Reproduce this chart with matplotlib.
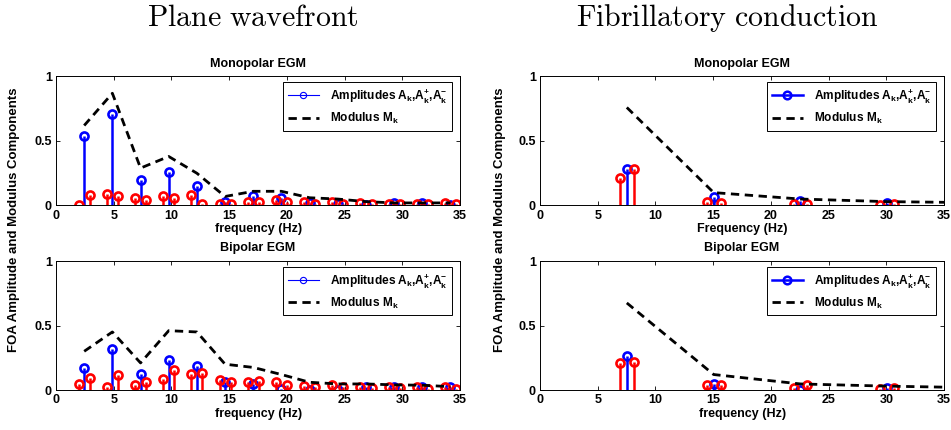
import matplotlib
matplotlib.use("Agg")
import matplotlib.pyplot as plt
from matplotlib.lines import Line2D
from matplotlib.legend_handler import HandlerLine2D

plt.rcParams["font.family"] = ["Liberation Sans", "DejaVu Sans"]
plt.rcParams["font.weight"] = "bold"
plt.rcParams["mathtext.fontset"] = "custom"
plt.rcParams["mathtext.rm"] = "Liberation Sans:bold"
plt.rcParams["mathtext.it"] = "Liberation Sans:bold"
plt.rcParams["mathtext.bf"] = "Liberation Sans:bold"

# plane wavefront: harmonics of the dominant frequency and their side lobes
plane_freq = [2.44, 4.88, 7.32, 9.76, 12.20, 14.64, 17.08, 19.52, 21.96,
              24.40, 26.84, 29.28, 31.72, 34.16]
plane_side_freq = [1.96, 2.92, 4.40, 5.36, 6.84, 7.80, 9.28, 10.24, 11.72,
                   12.68, 14.16, 15.12, 16.60, 17.56, 19.04, 20.00, 21.48,
                   22.44, 23.92, 24.88, 26.36, 27.32, 28.80, 29.76, 31.24,
                   32.20, 33.68, 34.64]

plane_mono_amp = [0.54, 0.71, 0.20, 0.26, 0.15, 0.03, 0.07, 0.06, 0.02,
                  0.01, 0.0, 0.02, 0.02, 0.0]
plane_mono_side = [0.00, 0.08, 0.09, 0.07, 0.06, 0.04, 0.07, 0.06, 0.08,
                   0.01, 0.01, 0.01, 0.03, 0.03, 0.04, 0.03, 0.03, 0.01,
                   0.03, 0.01, 0.02, 0.01, 0.01, 0.01, 0.01, 0.01, 0.02, 0.01]
plane_mono_mod = [0.62, 0.87, 0.29, 0.38, 0.25, 0.07, 0.11, 0.11, 0.06,
                  0.05, 0.03, 0.02, 0.02, 0.02]

plane_bi_amp = [0.17, 0.32, 0.125, 0.23, 0.19, 0.065, 0.045, 0.01, 0.0,
                0.0, 0.025, 0.025, 0.025, 0.02]
plane_bi_side = [0.045, 0.09, 0.02, 0.12, 0.035, 0.06, 0.085, 0.155, 0.125,
                 0.13, 0.075, 0.065, 0.065, 0.07, 0.06, 0.04, 0.03, 0.02,
                 0.035, 0.025, 0.025, 0.015, 0.02, 0.015, 0.02, 0.01, 0.02,
                 0.01]
plane_bi_mod = [0.30, 0.45, 0.21, 0.46, 0.45, 0.20, 0.175, 0.12, 0.06,
                0.047, 0.047, 0.04, 0.037, 0.026]

# fibrillatory conduction
fib_freq = [7.52, 15.04, 22.56, 30.08]
fib_side_freq = [6.92, 8.12, 14.44, 15.64, 21.96, 23.16, 29.48, 30.68]
fib_mod_freq = [7.52, 15.04, 22.56, 30.08, 37.60]

fib_mono_amp = [0.28, 0.065, 0.035, 0.02]
fib_mono_side = [0.21, 0.28, 0.025, 0.02, 0.01, 0.012, 0.005, 0.01]
fib_mono_mod = [0.76, 0.10, 0.05, 0.03, 0.022]

fib_bi_amp = [0.265, 0.05, 0.0, 0.013]
fib_bi_side = [0.21, 0.215, 0.04, 0.04, 0.018, 0.035, 0.005, 0.015]
fib_bi_mod = [0.675, 0.12, 0.047, 0.03, 0.018]

xticks = [0, 5, 10, 15, 20, 25, 30, 35]
yticks = [0, 0.5, 1]
yticklabels = ["0", "0.5", "1"]


class EndMarkerHandler(HandlerLine2D):
    """Legend line with the stem marker sitting at its right end."""

    def get_xdata(self, legend, xdescent, ydescent, width, height, fontsize):
        return [-xdescent, -xdescent + width], [-xdescent + width]


def draw_stems(ax, x, y, color):
    markers, stems, base = ax.stem(x, y, basefmt=" ")
    stems.set_color(color)
    stems.set_linewidth(1.8)
    markers.set_color(color)
    markers.set_marker("o")
    markers.set_markerfacecolor("none")
    markers.set_markeredgewidth(1.9)
    markers.set_markersize(5.8)


def draw_panel(ax, freq, amp, side_freq, side_amp, mod_freq, mod, title,
               xlabel, thin_legend):
    draw_stems(ax, freq, amp, "#0000ff")
    draw_stems(ax, side_freq, side_amp, "#ff0000")
    ax.plot(mod_freq, mod, color="k", lw=2.0, ls=(0, (3, 2)))

    ax.set_xlim(0, 35)
    ax.set_ylim(0, 1)
    ax.set_xticks(xticks)
    ax.set_yticks(yticks)
    ax.set_yticklabels(yticklabels)
    ax.tick_params(direction="in", top=True, right=True, length=3,
                   width=0.6, labelsize=9, pad=3)
    for s in ax.spines.values():
        s.set_linewidth(0.7)
    ax.set_title(title, fontsize=9, fontweight="bold", pad=7)
    ax.set_xlabel(xlabel, fontsize=9, fontweight="bold", labelpad=1)

    if thin_legend:
        amp_handle = Line2D([], [], color="#0000ff", lw=0.8, marker="o",
                            mfc="none", mew=0.8, ms=4.5)
    else:
        amp_handle = Line2D([], [], color="#0000ff", lw=1.8, marker="o",
                            mfc="none", mew=1.8, ms=5.5)
    mod_handle = Line2D([], [], color="k", lw=2.0, ls=(0, (3, 2)))
    leg = ax.legend([amp_handle, mod_handle],
                    [r"Amplitudes $\mathrm{A_k{,}A_k^{+}{,}A_k^{-}}$",
                     r"Modulus $\mathrm{M_k}$"],
                    handler_map={amp_handle: EndMarkerHandler()},
                    loc="upper right", bbox_to_anchor=(0.98, 0.955),
                    borderaxespad=0, fontsize=8.6, handlelength=2.6,
                    handletextpad=0.9, labelspacing=0.5, borderpad=0.4,
                    fancybox=False, framealpha=1, edgecolor="k")
    leg.get_frame().set_linewidth(0.7)


fig = plt.figure(figsize=(9.51, 4.30), dpi=100)

left_x, right_x, width = 0.0589, 0.5678, 0.4250
top_y, bottom_y, height = 0.5221, 0.0930, 0.3000

ax1 = fig.add_axes([left_x, top_y, width, height])
ax2 = fig.add_axes([left_x, bottom_y, width, height])
ax3 = fig.add_axes([right_x, top_y, width, height])
ax4 = fig.add_axes([right_x, bottom_y, width, height])

draw_panel(ax1, plane_freq, plane_mono_amp, plane_side_freq, plane_mono_side,
           plane_freq, plane_mono_mod, "Monopolar EGM", "frequency (Hz)", True)
draw_panel(ax2, plane_freq, plane_bi_amp, plane_side_freq, plane_bi_side,
           plane_freq, plane_bi_mod, "Bipolar EGM", "frequency (Hz)", True)
draw_panel(ax3, fib_freq, fib_mono_amp, fib_side_freq, fib_mono_side,
           fib_mod_freq, fib_mono_mod, "Monopolar EGM", "Frequency (Hz)", False)
draw_panel(ax4, fib_freq, fib_bi_amp, fib_side_freq, fib_bi_side,
           fib_mod_freq, fib_bi_mod, "Bipolar EGM", "frequency (Hz)", False)

ylab = "FOA Amplitude and Modulus Components"
fig.text(0.0147, 0.488, ylab, rotation=90, ha="center", va="center",
         fontsize=9.5, fontweight="bold")
fig.text(0.5257, 0.488, ylab, rotation=90, ha="center", va="center",
         fontsize=9.5, fontweight="bold")

fig.text(0.2655, 0.958, r"$\mathrm{Plane\ wavefront}$", math_fontfamily="cm",
         fontsize=21.5, ha="center", va="center")
fig.text(0.7645, 0.958, r"$\mathrm{Fibrillatory\ conduction}$",
         math_fontfamily="cm", fontsize=21.5, ha="center", va="center")

fig.savefig("out.png", dpi=100)
